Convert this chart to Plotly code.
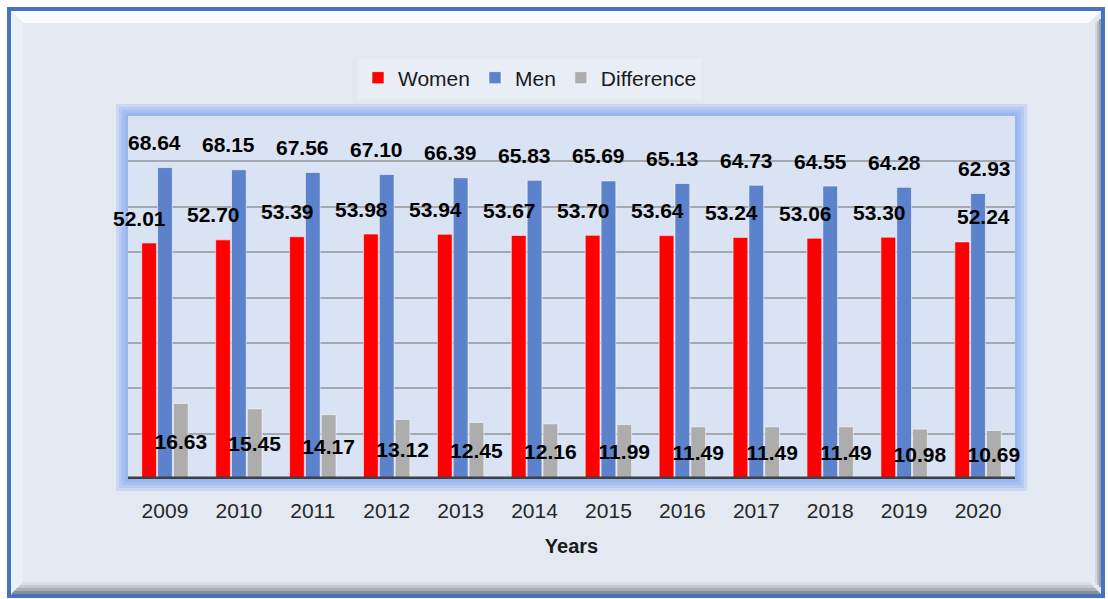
import plotly.graph_objects as go

years = ["2009", "2010", "2011", "2012", "2013", "2014", "2015", "2016", "2017", "2018", "2019", "2020"]
women = [52.01, 52.70, 53.39, 53.98, 53.94, 53.67, 53.70, 53.64, 53.24, 53.06, 53.30, 52.24]
men = [68.64, 68.15, 67.56, 67.10, 66.39, 65.83, 65.69, 65.13, 64.73, 64.55, 64.28, 62.93]
difference = [16.63, 15.45, 14.17, 13.12, 12.45, 12.16, 11.99, 11.49, 11.49, 11.49, 10.98, 10.69]

W, H = 1108, 599
L, R, T, B = 128, 1015, 116, 479   # plot area in pixels
PW, PH = R - L, B - T


def px(x):
    return (x - L) / PW


def py(y):
    return (B - y) / PH


FONT = "Liberation Sans, Arial, sans-serif"
LABEL_FONT = dict(family=FONT, size=21, color="black", weight="bold")
EDGE = dict(color="rgba(255,255,255,0.55)", width=1)

fig = go.Figure()
fig.add_trace(go.Bar(name="Women", x=years, y=women, marker=dict(color="#FF0000", line=EDGE)))
fig.add_trace(go.Bar(name="Men", x=years, y=men, marker=dict(color="#5B82CA", line=EDGE)))
fig.add_trace(go.Bar(name="Difference", x=years, y=difference,
                     marker=dict(color="#ADADAD", line=EDGE),
                     texttemplate="%{y:.2f}", textposition="inside", insidetextanchor="middle",
                     textangle=0, constraintext="none", cliponaxis=False,
                     insidetextfont=LABEL_FONT))

shapes = []


def poly(points, color):
    d = "M " + " L ".join(f"{px(a):.5f},{py(b):.5f}" for a, b in points) + " Z"
    shapes.append(dict(type="path", path=d, xref="paper", yref="paper", fillcolor=color,
                       line=dict(width=0), layer="below"))


def rect(x0, y0, x1, y1, fill, line_color=None, lw=0):
    shapes.append(dict(type="rect", xref="paper", yref="paper", x0=px(x0), x1=px(x1), y0=py(y1), y1=py(y0),
                       fillcolor=fill, line=dict(color=line_color or "rgba(0,0,0,0)", width=lw), layer="below"))


# outer frame
rect(9, 9, 1103, 596, "#E3E8F1", "#4472C4", 4)
# bevel top & left
poly([(11, 11), (1101, 11), (1089, 23), (23, 23)], "#FAFBFD")
poly([(11, 11), (23, 23), (23, 583), (11, 595)], "#EBEFF6")
# bevel bottom (gradient stripes)
for i, c in enumerate(["#DADDE3", "#C6C9CF", "#ABAEB4", "#8C8F95"]):
    y0 = 582 + 3 * i
    poly([(11 + 12 - 3 * i, y0), (1101 - 12 + 3 * i, y0), (1101 - 9 + 3 * i, y0 + 3), (11 + 9 - 3 * i, y0 + 3)], c)
# bevel right
for i, c in enumerate(["#D3D6DC", "#B9BCC2", "#9C9FA5"]):
    x0 = 1095 + 2 * i
    rect(x0, 23 - 2 * i, x0 + 2, 583 + 2 * i, c)

# glow around plot area
for e in [12, 9, 6, 3]:
    rect(L - e, T - e, R + e, B + e, "rgba(110,155,240,0.22)")
# plot fill
rect(L, T, R, B, "#DAE3F3")

# baseline
shapes.append(dict(type="line", xref="paper", yref="y", x0=0, x1=1, y0=0, y1=0,
                   line=dict(color="#404040", width=5), layer="above"))

annotations = []
n = len(years)
for i in range(n):
    last = i == n - 1
    annotations.append(dict(x=i, y=men[i], xref="x", yref="y", text=f"{men[i]:.2f}", showarrow=False,
                            xshift=6 if last else -10, yshift=25, xanchor="center", yanchor="middle",
                            font=LABEL_FONT))
    annotations.append(dict(x=i, y=women[i], xref="x", yref="y", text=f"{women[i]:.2f}", showarrow=False,
                            xshift=5 if last else -25, yshift=25, xanchor="center", yanchor="middle",
                            font=LABEL_FONT))

fig.update_layout(
    width=W, height=H,
    margin=dict(l=L, r=W - R, t=T, b=H - B, pad=0),
    paper_bgcolor="white",
    plot_bgcolor="rgba(0,0,0,0)",
    barmode="group", bargap=0.357, bargroupgap=0.07,
    shapes=shapes, annotations=annotations,
    font=dict(family=FONT, color="#262626"),
    legend=dict(orientation="h", x=px(530), xanchor="center", y=py(78), yanchor="middle",
                bgcolor="#E9EDF5", font=dict(family=FONT, size=21, color="#1A1A1A"),
                itemclick=False, traceorder="normal"),
    showlegend=True,
    xaxis=dict(type="category", range=[-0.5, n - 0.5], showgrid=False, zeroline=False, showline=False,
               ticks="", ticklabelstandoff=17, tickfont=dict(family=FONT, size=21, color="#262626"),
               title=dict(text="<b>Years</b>", standoff=17, font=dict(family=FONT, size=20, color="#1A1A1A"))),
    yaxis=dict(range=[0, 80], tickvals=[10, 20, 30, 40, 50, 60, 70], showticklabels=False,
               showgrid=True, gridcolor="#A4A8B0", gridwidth=1.5, zeroline=False, showline=False, ticks=""),
)

fig.write_html("out.html", config={"displayModeBar": False},
               post_script="document.body.style.margin='0';document.body.style.overflow='hidden';")
